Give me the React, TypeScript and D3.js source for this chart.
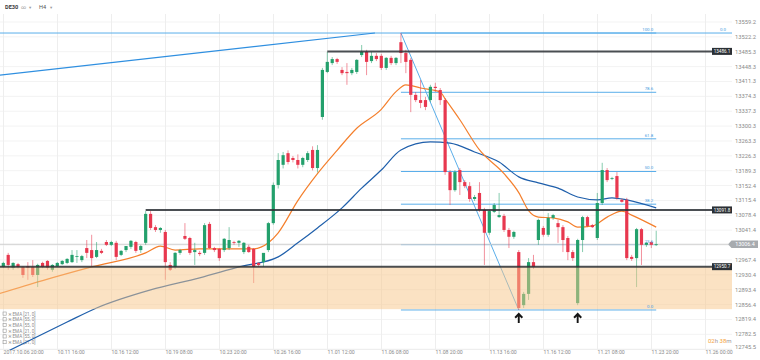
import React from "react";
import * as d3 from "d3";

// DE30 H4 candles, bar 0 = 2017.10.06 20:00
const opens = [
  12950, 12980, 12948, 12957, 12950, 12952, 12950, 12930, 12960, 12965,
  12943, 12952, 12957, 12960, 12962, 12975, 12967, 12997, 12992, 12975,
  12990, 13012, 13005, 13010, 12980, 12992, 13000, 13012, 12992, 13010,
  13082, 13049, 13042, 13037, 12955, 12950, 12985, 13027, 13022, 12987,
  12985, 12985, 13057, 12997, 12995, 12992, 12997, 13012, 13010, 12987,
  13000, 12995, 12960, 12962, 12992, 13059, 13154, 13204, 13233, 13221,
  13216, 13204, 13216, 13241, 13196, 13323, 13435, 13457, 13467, 13440,
  13435, 13432, 13435, 13477, 13485, 13462, 13475, 13475, 13445, 13470,
  13457, 13509, 13482, 13465, 13378, 13365, 13365, 13365, 13398, 13390,
  13365, 13186, 13141, 13191, 13161, 13151, 13119, 13134, 13092, 13035,
  13087, 13074, 13077, 13042, 13025, 12987, 12855, 12883, 12962, 13017,
  13047, 13030, 13072, 13059, 13049, 13022, 12987, 12860, 13017, 13074,
  13054, 13022, 13109, 13191, 13169, 13176, 13117, 13117, 12975, 12972,
  13044, 13005, 13012, 13005,
];
const highs = [
  12963, 12985, 12962, 12960, 12952, 12962, 12967, 12958, 12963, 12967,
  12957, 12962, 12967, 12972, 12992, 12992, 12980, 13017, 13030, 13012,
  12995, 13017, 13015, 13015, 12992, 13002, 13017, 13015, 13005, 13089,
  13089, 13054, 13049, 13042, 12962, 12987, 12995, 13059, 13025, 13010,
  12990, 13059, 13062, 13000, 12997, 13022, 13049, 13015, 13017, 13012,
  13005, 12997, 12962, 12975, 13062, 13160, 13233, 13236, 13240, 13226,
  13230, 13224, 13238, 13250, 13253, 13445, 13485, 13472, 13470, 13447,
  13457, 13445, 13467, 13502, 13490, 13485, 13482, 13480, 13472, 13475,
  13472, 13532, 13490, 13470, 13385, 13415, 13373, 13403, 13408, 13395,
  13370, 13191, 13191, 13196, 13166, 13161, 13129, 13161, 13097, 13092,
  13109, 13134, 13082, 13047, 13040, 12992, 12888, 12972, 12980, 13070,
  13052, 13084, 13082, 13067, 13054, 13027, 12992, 13020, 13077, 13077,
  13057, 13134, 13209, 13196, 13174, 13186, 13120, 13122, 12980, 13047,
  13047, 13012, 13015, 13040,
];
const lows = [
  12947, 12943, 12943, 12946, 12923, 12918, 12925, 12900, 12947, 12943,
  12938, 12950, 12955, 12957, 12960, 12960, 12962, 12972, 12950, 12972,
  12982, 13002, 13002, 12967, 12977, 12987, 12995, 12985, 12985, 13005,
  13042, 13037, 13035, 12918, 12940, 12945, 12980, 13017, 12980, 12955,
  12977, 12980, 12995, 12987, 12965, 12987, 12992, 13005, 13000, 12982,
  12985, 12910, 12950, 12950, 12987, 13055, 13145, 13195, 13205, 13210,
  13195, 13198, 13211, 13190, 13185, 13316, 13432, 13452, 13455, 13427,
  13403, 13427, 13430, 13472, 13427, 13457, 13462, 13440, 13440, 13452,
  13452, 13457, 13432, 13335, 13360, 13345, 13340, 13360, 13385, 13353,
  13179, 13104, 13137, 13129, 13146, 13112, 13114, 13087, 12955, 13030,
  13084, 13072, 13037, 12997, 13020, 12843, 12848, 12868, 12945, 13005,
  13025, 13025, 13067, 13010, 12987, 12967, 12965, 12855, 12987, 13049,
  13047, 13017, 13104, 13161, 13166, 13117, 13110, 12967, 12965, 12900,
  12955, 13000, 12997, 13002,
];
const closes = [
  12960, 12955, 12960, 12950, 12930, 12948, 12930, 12955, 12950, 12948,
  12955, 12960, 12965, 12970, 12980, 12977, 12977, 12985, 12972, 12992,
  12985, 13005, 13012, 12975, 12990, 13002, 13015, 12990, 13002, 13082,
  13047, 13042, 13047, 12962, 12943, 12985, 12992, 13020, 12985, 12992,
  12982, 13054, 12997, 12992, 12972, 13020, 13017, 13010, 13015, 13010,
  12987, 12950, 12955, 12985, 13059, 13154, 13216, 13228, 13211, 13216,
  13204, 13221, 13233, 13196, 13241, 13440, 13460, 13467, 13460, 13432,
  13432, 13440, 13465, 13485, 13460, 13475, 13467, 13445, 13470, 13457,
  13470, 13482, 13460, 13378, 13365, 13358, 13348, 13398, 13395, 13365,
  13186, 13141, 13186, 13161, 13151, 13119, 13124, 13092, 13035, 13089,
  13104, 13079, 13042, 13025, 13037, 12848, 12883, 12962, 12950, 13067,
  13030, 13072, 13079, 13049, 13017, 12987, 12972, 13017, 13074, 13052,
  13049, 13109, 13191, 13166, 13171, 13122, 13112, 12972, 12970, 13044,
  13005, 13010, 13005, 13006.4,
];

// EMA lines, read at sample bars
const emaFastBars = [-1, 8, 18, 29, 32, 35, 40, 51, 54, 56, 60, 64, 68, 72, 77, 80, 82, 85, 89, 90, 93, 97, 102, 105, 107, 109, 112, 115, 117, 120, 123, 126, 128, 133];
const emaFastValues = [12883, 12916, 12950, 12985, 13002, 12992, 12995, 12995, 13010, 13035, 13115, 13182, 13240, 13295, 13342, 13386, 13403, 13395, 13385, 13368, 13316, 13241, 13182, 13135, 13090, 13074, 13072, 13062, 13049, 13052, 13074, 13089, 13079, 13049];
const emaSlowBars = [-1, 13, 19, 30, 40, 48, 56, 60, 64, 69, 73, 77, 81, 87, 91, 96, 101, 105, 109, 113, 117, 121, 124, 127, 133];
const emaSlowValues = [12729, 12813, 12848, 12893, 12923, 12950, 12975, 13010, 13047, 13097, 13146, 13191, 13241, 13261, 13258, 13236, 13211, 13174, 13159, 13146, 13124, 13117, 13122, 13117, 13097];

const priceTicks = [13559.2, 13522.2, 13485.3, 13448.3, 13411.3, 13374.3, 13337.3, 13300.3, 13263.3, 13226.3, 13189.3, 13152.4, 13115.4, 13078.4, 13041.4, 13004.4, 12967.4, 12930.4, 12893.4, 12856.4, 12819.4, 12782.5, 12745.5];
const timeLabels = ["2017.10.06 20:00", "10.11 16:00", "10.16 12:00", "10.19 08:00", "10.23 20:00", "10.26 16:00", "11.01 12:00", "11.06 08:00", "11.08 20:00", "11.13 16:00", "11.16 12:00", "11.21 08:00", "11.23 20:00", "11.26 00:00"];
const barsPerLabel = 11;

// horizontal levels and the bar each one starts at
const levelPrices = [13486.1, 13091.8, 12950.7];
const levelStartBars = [66, 29, -1];
const zoneBounds = [12950.7, 12845];
const lastPrice = 13006.4;

// fibonacci retracement between swing high and swing low
const fibHigh = { bar: 81, price: 13531.8 };
const fibLow = { bar: 105, price: 12843 };
const fibRatios = [0, 23.6, 38.2, 50, 61.8, 78.6, 100];
const trendLine = [{ bar: -0.7, price: 13427 }, { bar: 75.7, price: 13531.8 }];
const arrowBars = [105, 117];

const legendItems = ["EMA [21, 0]", "EMA [55, 0]", "EMA [55, 0]", "EMA [21, 0]", "EMA [55, 0]", "EMA [21, 0]"];

const W = 760;
const H = 360;
const GREEN = "#23a06c";
const RED = "#e8384f";
const FIB = "#5aaeea";
const FONT = "Roboto, 'DejaVu Sans', sans-serif";

export default function App() {
  const x = d3.scaleLinear().domain([0, 143]).range([3.3, 705.3]);
  const y = d3.scaleLinear().domain([12782.5, 13559.2]).range([334.3, 22]);
  const plotRight = 732;

  const fastLine = d3
    .line<number>()
    .x((_, i) => x(emaFastBars[i]))
    .y((d) => y(d))
    .curve(d3.curveMonotoneX)(emaFastValues);
  const slowLine = d3
    .line<number>()
    .x((_, i) => x(emaSlowBars[i]))
    .y((d) => y(d))
    .curve(d3.curveMonotoneX)(emaSlowValues);

  const fibPrice = (r: number) => fibLow.price + ((fibHigh.price - fibLow.price) * r) / 100;
  const lastBar = closes.length - 1;
  const yLast = y(lastPrice);

  return (
    <div style={{ position: "absolute", left: 0, top: 0 }}>
      <svg width={W} height={H} style={{ display: "block", background: "#fff", fontFamily: FONT }}>
        <defs>
          <clipPath id="plot">
            <rect x={0} y={14} width={plotRight} height={336} />
          </clipPath>
        </defs>

        {/* grid */}
        {priceTicks.map((p) => (
          <line key={p} x1={0} x2={plotRight} y1={y(p)} y2={y(p)} stroke="#f3f3f3" />
        ))}
        {timeLabels.map((_, k) => {
          const gx = Math.round(x(k * barsPerLabel)) + 0.5;
          return <line key={k} x1={gx} x2={gx} y1={14} y2={349} stroke="#eeeeee" />;
        })}
        <line x1={0} x2={plotRight} y1={349.5} y2={349.5} stroke="#eeeeee" />

        {/* legend */}
        {legendItems.map((t, k) => (
          <g key={k} transform={`translate(3, ${315 + k * 5.7})`} fill="#8d8d8d" fontSize={4.6}>
            <rect x={0} y={-3} width={3.2} height={3.2} fill="none" stroke="#9a9a9a" strokeWidth={0.6} />
            <text x={5} y={0.6}>✕</text>
            <text x={9.5} y={0.6}>{t}</text>
          </g>
        ))}

        <g clipPath="url(#plot)">
          {/* top line and trend line */}
          <line x1={0} x2={plotRight} y1={y(fibHigh.price)} y2={y(fibHigh.price)} stroke={FIB} strokeWidth={1} />
          <line
            x1={x(trendLine[0].bar)}
            y1={y(trendLine[0].price)}
            x2={x(trendLine[1].bar)}
            y2={y(trendLine[1].price)}
            stroke="#2f8fe0"
            strokeWidth={1.1}
          />

          {/* fib levels */}
          {fibRatios.map((r) => (
            <line
              key={r}
              x1={x(fibHigh.bar)}
              x2={x(lastBar)}
              y1={y(fibPrice(r))}
              y2={y(fibPrice(r))}
              stroke={FIB}
              strokeWidth={1}
            />
          ))}
          <line
            x1={x(fibHigh.bar)}
            y1={y(fibHigh.price)}
            x2={x(fibLow.bar)}
            y2={y(fibLow.price)}
            stroke={FIB}
            strokeWidth={1}
          />

          {/* last price line */}
          <line x1={0} x2={728} y1={yLast} y2={yLast} stroke="#cfcfcf" strokeWidth={1} />

          {/* EMAs */}
          <path d={slowLine ?? ""} fill="none" stroke="#1f5fab" strokeWidth={1.2} />
          <path d={fastLine ?? ""} fill="none" stroke="#f47f2c" strokeWidth={1.2} />

          {/* candles */}
          {closes.map((c, i) => {
            const o = opens[i];
            const up = c >= o;
            const col = up ? GREEN : RED;
            const cx = x(i);
            const top = y(Math.max(o, c));
            const bot = y(Math.min(o, c));
            return (
              <g key={i}>
                <line x1={cx} x2={cx} y1={y(highs[i])} y2={y(lows[i])} stroke={col} strokeOpacity={0.55} strokeWidth={1} />
                <rect x={cx - 1.6} y={top} width={3.2} height={Math.max(bot - top, 0.8)} fill={col} />
              </g>
            );
          })}

          {/* support zone on top, translucent */}
          <rect
            x={0}
            y={y(zoneBounds[0])}
            width={plotRight}
            height={y(zoneBounds[1]) - y(zoneBounds[0])}
            fill="#f8c587"
            fillOpacity={0.5}
          />

          {/* dark levels */}
          {levelPrices.map((p, k) => (
            <line
              key={p}
              x1={levelStartBars[k] < 0 ? 0 : x(levelStartBars[k])}
              x2={plotRight}
              y1={y(p)}
              y2={y(p)}
              stroke="#2b3035"
              strokeWidth={2}
              strokeOpacity={0.85}
            />
          ))}
        </g>

        {/* fib labels */}
        {fibRatios.map((r) => (
          <text key={r} x={x(lastBar) - 3} y={y(fibPrice(r)) - 2} fontSize={4.4} fill="#3f9be0" textAnchor="end">
            {r.toFixed(1)}
          </text>
        ))}
        <text x={726} y={y(fibHigh.price) - 2} fontSize={4.4} fill="#3f9be0" textAnchor="end">
          0.0
        </text>

        {/* arrows under swing lows */}
        {arrowBars.map((b) => {
          const cx = x(b);
          const t = y(fibLow.price) + 4;
          return (
            <path
              key={b}
              d={`M${cx - 3.6},${t + 3.8} L${cx},${t} L${cx + 3.6},${t + 3.8} M${cx},${t} V${t + 9}`}
              fill="none"
              stroke="#151515"
              strokeWidth={1.9}
              strokeLinejoin="miter"
            />
          );
        })}

        {/* level tags */}
        {levelPrices.map((p) => (
          <g key={p}>
            <rect x={712} y={y(p) - 3.5} width={20} height={7} fill="#2b3035" />
            <text x={722} y={y(p) + 1.6} fontSize={4.6} fill="#fff" textAnchor="middle">
              {p.toFixed(1)}
            </text>
          </g>
        ))}

        {/* price axis */}
        {priceTicks.map((p) => (
          <text key={p} x={735} y={Math.min(y(p), 347) + 2} fontSize={5.8} fill="#8a8a8a">
            {p.toFixed(1)}
          </text>
        ))}
        <path
          d={`M728,${yLast} L731.5,${yLast - 3.8} H758 V${yLast + 3.8} H731.5 Z`}
          fill="#a7abaf"
        />
        <text x={745} y={yLast + 2} fontSize={5.4} fill="#fff" textAnchor="middle">
          {lastPrice.toFixed(1)}
        </text>

        {/* time axis */}
        {timeLabels.map((t, k) => (
          <text key={t} x={Math.round(x(k * barsPerLabel)) + 0.5} y={354} fontSize={5.2} fill="#8a8a8a">
            {t}
          </text>
        ))}

        {/* countdown */}
        <text x={708} y={343} fontSize={6} fill="#9a9a9a">
          <tspan fill="#f5a43a">02</tspan>h <tspan fill="#f5a43a">38</tspan>m
        </text>

        {/* header */}
        <text x={5} y={9} fontSize={5.6} fontWeight="bold" fill="#3a3a3a">
          DE30
        </text>
        <text x={21} y={9} fontSize={5} fill="#9a9a9a">
          ∞
        </text>
        <text x={29} y={9} fontSize={4.5} fill="#9a9a9a">
          ▾
        </text>
        <text x={39} y={9} fontSize={5.6} fill="#555">
          H4
        </text>
        <text x={50} y={9} fontSize={4.5} fill="#9a9a9a">
          ▾
        </text>
      </svg>
    </div>
  );
}
